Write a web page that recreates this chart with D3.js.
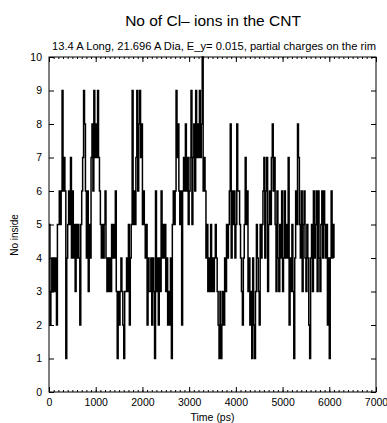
<!DOCTYPE html>
<html>
<head>
<meta charset="utf-8">
<script src="https://cdn.jsdelivr.net/npm/d3@7"></script>
<style>
  body { margin: 0; background: #fff; }
  text { font-family: "Liberation Sans", Arial, sans-serif; fill: #000; }
</style>
</head>
<body>
<div id="chart"></div>
<script>
// Number of Cl- ions inside the tube, one sample every 20 ps, 1000 ps per block
const step = 20;
const block0 = [5,2,3,4,3,4,3,4,2,5, 5,6,5,6, 9, 6,7,6, 1,4, 5,6,5,7,4,6,4,5,3,5, 4,5,4,2,5, 6,7,9,8,6, 4,6,3,5,4, 7,8,6,9,7];
const block1 = [8,7,9,7, 6,5, 4,5,4,5,6,4, 3,4,3,4,3,5, 4,5,4,6, 3,1,3,2,3,4,3,2,1,3, 3,4,3,5,2, 4,5,9,5,6,5, 7,9,6,8,9,7,8];
const block2 = [5,6,5, 4,5,2,4,3, 3,4,2,4,3,1,6,3,4,2,4,3,6, 4,5,4,5, 3,4,2,3,2, 4,1, 5,6,5, 6,9,7,8,6, 5,6,2, 6,7,6,8,6,7,5];
const block3 = [6,7,9, 5,7,8,6,9, 7,8,7,9,7,8, 10, 6,7,6, 4,5,3,4,3,5, 3,4,3,4,5,4, 3,2,1,3,1,2,3,2,4,3, 5,4,5, 6,8, 4,6,5,6,4];
const block4 = [5,8, 6,6,5, 4,3,2,4, 5,7,5,6, 3,4,2,3,1, 4,2,1,3,5,4,3,2,5, 4,5, 6,7,4,6,7, 3,5, 6,5,7,8,6,7, 5,3,6,4,3,5, 4,6];
const block5 = [3,4,6,4, 5,4,7, 2,4,3,5,3,1,4, 6,5,8,7, 5,4,6,3,5, 6,4,3,5,4,2, 1, 4,5,3,6,4, 5,6,3,6,4,3,5,6,4,6,5,4, 5,2,4,1,4, 6,4,5,4];

const xTicks = [0, 1000, 2000, 3000, 4000, 5000, 6000, 7000];
const yTicks = [0, 1, 2, 3, 4, 5, 6, 7, 8, 9, 10];

const counts = [].concat(block0, block1, block2, block3, block4, block5);
const series = counts.map((v, i) => ({ t: i * step, n: v }));

const width = 387, height = 423;
const margin = { top: 57, right: 11, bottom: 31, left: 49 };
const plotW = width - margin.left - margin.right;
const plotH = height - margin.top - margin.bottom;

const svg = d3.select('#chart').append('svg')
  .attr('width', width)
  .attr('height', height);

svg.append('text')
  .attr('x', 213).attr('y', 26)
  .attr('text-anchor', 'middle')
  .attr('font-size', '15.5px')
  .text('No of Cl\u2013 ions in the CNT');

svg.append('text')
  .attr('x', 52).attr('y', 50)
  .attr('font-size', '10.5px')
  .attr('textLength', 324)
  .attr('lengthAdjust', 'spacingAndGlyphs')
  .text('13.4 A Long, 21.696 A Dia, E_y= 0.015, partial charges on the rim');

const g = svg.append('g')
  .attr('transform', `translate(${margin.left}, ${margin.top})`);

const x = d3.scaleLinear().domain([0, 7000]).range([0, plotW]);
const y = d3.scaleLinear().domain([0, 10]).range([plotH, 0]);

// data line
const line = d3.line()
  .x(d => x(d.t))
  .y(d => y(d.n))
  .curve(d3.curveStepAfter);

g.append('path')
  .datum(series)
  .attr('fill', 'none')
  .attr('stroke', '#000')
  .attr('stroke-width', 1.5)
  .attr('d', line);

// minor ticks every 100 ps, top and bottom
const minor = d3.range(0, 7001, 100);
g.append('g')
  .attr('transform', `translate(0, ${plotH})`)
  .call(d3.axisBottom(x).tickValues(minor).tickSize(-2).tickFormat(''))
  .call(a => a.select('.domain').remove());
g.append('g')
  .call(d3.axisTop(x).tickValues(minor).tickSize(-2).tickFormat(''))
  .call(a => a.select('.domain').remove());

// major ticks
g.append('g')
  .attr('class', 'axis axis--x')
  .attr('transform', `translate(0, ${plotH})`)
  .call(d3.axisBottom(x).tickValues(xTicks).tickSize(-5).tickPadding(7).tickFormat(d3.format('d')))
  .call(a => a.select('.domain').remove());
g.append('g')
  .call(d3.axisTop(x).tickValues(xTicks).tickSize(-5).tickFormat(''))
  .call(a => a.select('.domain').remove());

g.append('g')
  .attr('class', 'axis axis--y')
  .call(d3.axisLeft(y).tickValues(yTicks).tickSize(-5).tickPadding(7).tickFormat(d3.format('d')))
  .call(a => a.select('.domain').remove());
g.append('g')
  .attr('transform', `translate(${plotW}, 0)`)
  .call(d3.axisRight(y).tickValues(yTicks).tickSize(-5).tickFormat(''))
  .call(a => a.select('.domain').remove());

g.selectAll('.tick line').attr('stroke', '#000');
g.selectAll('.tick text')
  .attr('font-size', '10.5px')
  .attr('font-family', '"Liberation Sans", Arial, sans-serif')
  .attr('fill', '#000');

// frame
g.append('rect')
  .attr('width', plotW)
  .attr('height', plotH)
  .attr('fill', 'none')
  .attr('stroke', '#000')
  .attr('stroke-width', 1);

svg.append('text')
  .attr('transform', 'translate(18, 235) rotate(-90)')
  .attr('text-anchor', 'middle')
  .attr('font-size', '10px')
  .text('No inside');

svg.append('text')
  .attr('x', margin.left + x(3500)).attr('y', 421)
  .attr('text-anchor', 'middle')
  .attr('font-size', '10.5px')
  .text('Time (ps)');
</script>
</body>
</html>
